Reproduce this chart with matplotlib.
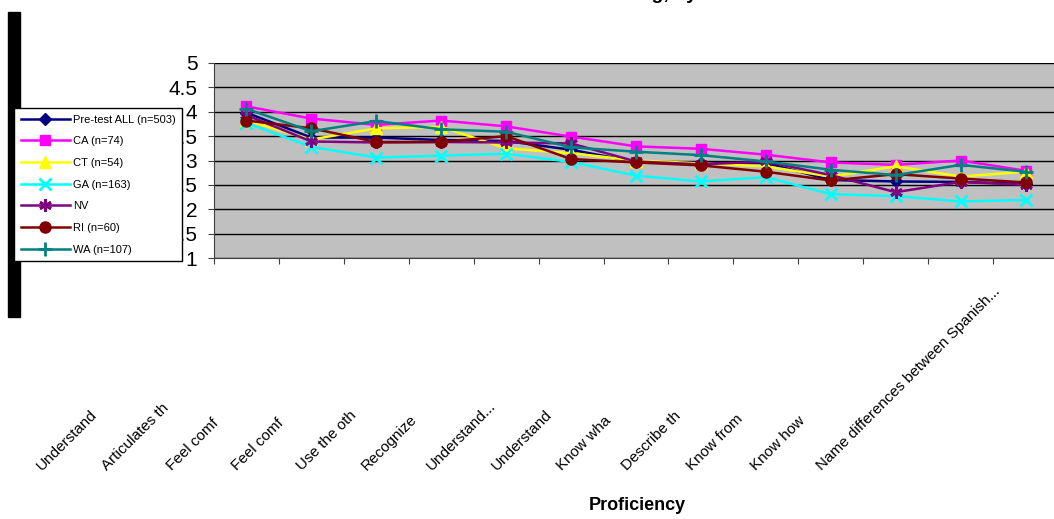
import matplotlib
matplotlib.use("Agg")
import matplotlib.pyplot as plt
from matplotlib.transforms import ScaledTranslation
from matplotlib.patches import Rectangle

plt.rcParams['font.family'] = ['Liberation Sans', 'DejaVu Sans']

# Daten
items = ["Understand", "Articulates th", "Feel comf", "Feel comf", "Use the oth",
         "Recognize", "Understand...", "Understand", "Know wha", "Describe th",
         "Know from", "Know how", "Name differences between Spanish..."]
pre = [3.98, 3.47, 3.47, 3.42, 3.40, 3.22, 2.97, 2.94, 2.95, 2.60, 2.57, 2.56, 2.52]
ca = [4.11, 3.86, 3.73, 3.82, 3.70, 3.49, 3.29, 3.24, 3.12, 2.96, 2.91, 3.00, 2.79]
ct = [3.82, 3.43, 3.66, 3.69, 3.25, 3.15, 3.00, 2.94, 2.88, 2.67, 2.88, 2.67, 2.77]
ga = [3.77, 3.28, 3.06, 3.10, 3.14, 2.97, 2.69, 2.57, 2.66, 2.31, 2.27, 2.16, 2.19]
nv = [3.93, 3.39, 3.37, 3.38, 3.37, 3.35, 2.98, 2.92, 2.98, 2.70, 2.35, 2.56, 2.50]
ri = [3.82, 3.66, 3.38, 3.38, 3.50, 3.03, 2.96, 2.90, 2.77, 2.59, 2.72, 2.63, 2.55]
wa = [4.06, 3.60, 3.81, 3.64, 3.59, 3.27, 3.18, 3.11, 2.98, 2.81, 2.70, 2.91, 2.77]

series = [
    ("Pre-test ALL (n=503)", pre, "#000080", "D", 6),
    ("CA (n=74)", ca, "#FF00FF", "s", 7),
    ("CT (n=54)", ct, "#FFFF00", "^", 8),
    ("GA (n=163)", ga, "#00FFFF", "x", 8),
    ("NV", nv, "#800080", (6, 2, 0), 9),
    ("RI (n=60)", ri, "#800000", "o", 8),
    ("WA (n=107)", wa, "#008080", "+", 10),
]

W, H = 1054, 519
fig = plt.figure(figsize=(W / 100, H / 100), dpi=100)
ax = fig.add_axes([214 / W, 1 - 258 / H, (1058 - 214) / W, (258 - 63) / H])
ax.set_facecolor("#C0C0C0")

x = list(range(len(items)))
for name, vals, col, mk, ms in series:
    ax.plot(x, vals, color=col, lw=1.8, marker=mk, markersize=ms,
            markeredgewidth=2 if mk in ("x", "+", (6, 2, 0)) else 1,
            markeredgecolor=col, markerfacecolor=col, label=name, zorder=3)

ax.set_xlim(-0.5, len(items) - 0.5)
ax.set_ylim(1, 5)
ax.set_yticks([1, 1.5, 2, 2.5, 3, 3.5, 4, 4.5, 5])
ax.set_yticklabels(["1", "1.5", "2", "2.5", "3", "3.5", "4", "4.5", "5"])
ax.yaxis.grid(True, color="black", lw=1)
ax.set_axisbelow(True)
ax.tick_params(axis="y", labelsize=15, length=4, pad=8, color="#404040")
ax.set_xticks([i - 0.5 for i in x])
ax.set_xticklabels([])
ax.tick_params(axis="x", length=4, color="#404040")
for s in ["top", "right"]:
    ax.spines[s].set_visible(False)
ax.spines["left"].set_color("#404040")
ax.spines["bottom"].set_color("#404040")

# verschobene Kategorienbeschriftungen
off = ScaledTranslation(-2.02, -2.15, fig.dpi_scale_trans)
for i, lab in enumerate(items):
    ax.text(i, 0, lab, transform=ax.get_xaxis_transform() + off, rotation=45,
            rotation_mode="anchor", ha="left", va="bottom", fontsize=11,
            clip_on=False)

fig.text(637 / W, 1 - 506 / H, "Proficiency", ha="center", va="center",
         fontsize=13, fontweight="bold")
fig.text(638 / W, 1 + 1 / H, "Pre-test Rating, by State", ha="center",
         va="baseline", fontsize=14, fontweight="bold")

fig.patches.append(Rectangle((8 / W, 1 - 317 / H), 12 / W, 305 / H,
                             transform=fig.transFigure, color="black"))

leg = fig.legend(loc="upper left", bbox_to_anchor=(14 / W, 1 - 108 / H),
                 fontsize=8, frameon=True, fancybox=False, edgecolor="black",
                 framealpha=1, handlelength=4.4, labelspacing=1.05,
                 borderaxespad=0, borderpad=0.6, handletextpad=0.3)
leg.get_frame().set_linewidth(1)
leg.set_zorder(10)

fig.savefig("out.png", dpi=100)
